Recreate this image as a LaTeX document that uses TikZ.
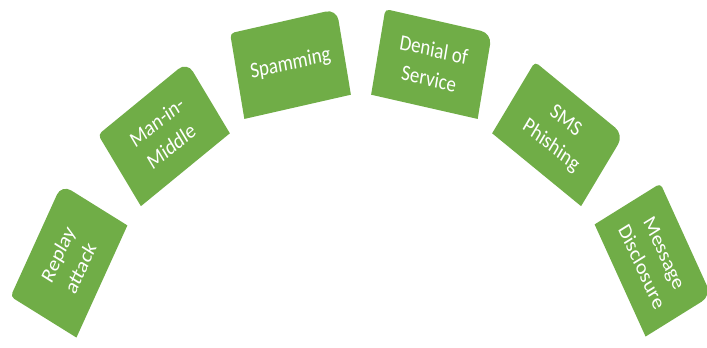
\documentclass[tikz,border=0pt]{standalone}
\usepackage{fontspec}
\setmainfont{Carlito}
\usepackage{tikz}
\usetikzlibrary{backgrounds}
\definecolor{leaf}{RGB}{112,173,71}
\tikzstyle{att}=[minimum width=2.7cm, minimum height=1.85cm, inner sep=0pt, text=white, align=center, font=\fontsize{13.5}{18}\selectfont, yscale=1.17]
\tikzstyle{card}=[fill=leaf]

\begin{document}
\begin{tikzpicture}
      \useasboundingbox (0,0) rectangle (17.675,8.675);
      \node [att, rotate=62] (a) at (1.725,2.15) {Replay\\attack};
      \node [att, rotate=35] (b) at (4.1,5.325) {Man-in-\\Middle};
      \node [att, rotate=11] (c) at (7.2625,7.075) {Spamming};
      \node [att, rotate=-11] (d) at (10.7875,7.075) {Denial of\\Service};
      \node [att, rotate=-35] (e) at (13.95,5.325) {SMS\\Phishing};
      \node [att, rotate=-62] (f) at (16.325,2.175) {Message\\Disclosure};
      \begin{scope}[on background layer]
      \fill[card] (a.south west) [rounded corners=3pt] -- (a.north west) [rounded corners=8pt] -- (a.north east) [sharp corners] -- (a.south east) -- cycle;
      \fill[card] (b.south west) [rounded corners=3pt] -- (b.north west) [rounded corners=8pt] -- (b.north east) [sharp corners] -- (b.south east) -- cycle;
      \fill[card] (c.south west) [rounded corners=3pt] -- (c.north west) [rounded corners=8pt] -- (c.north east) [sharp corners] -- (c.south east) -- cycle;
      \fill[card] (d.south west) [rounded corners=3pt] -- (d.north west) [rounded corners=8pt] -- (d.north east) [sharp corners] -- (d.south east) -- cycle;
      \fill[card] (e.south west) [rounded corners=3pt] -- (e.north west) [rounded corners=8pt] -- (e.north east) [sharp corners] -- (e.south east) -- cycle;
      \fill[card] (f.south west) [rounded corners=3pt] -- (f.north west) [rounded corners=8pt] -- (f.north east) [sharp corners] -- (f.south east) -- cycle;
      \end{scope}
  \end{tikzpicture}
\end{document}
